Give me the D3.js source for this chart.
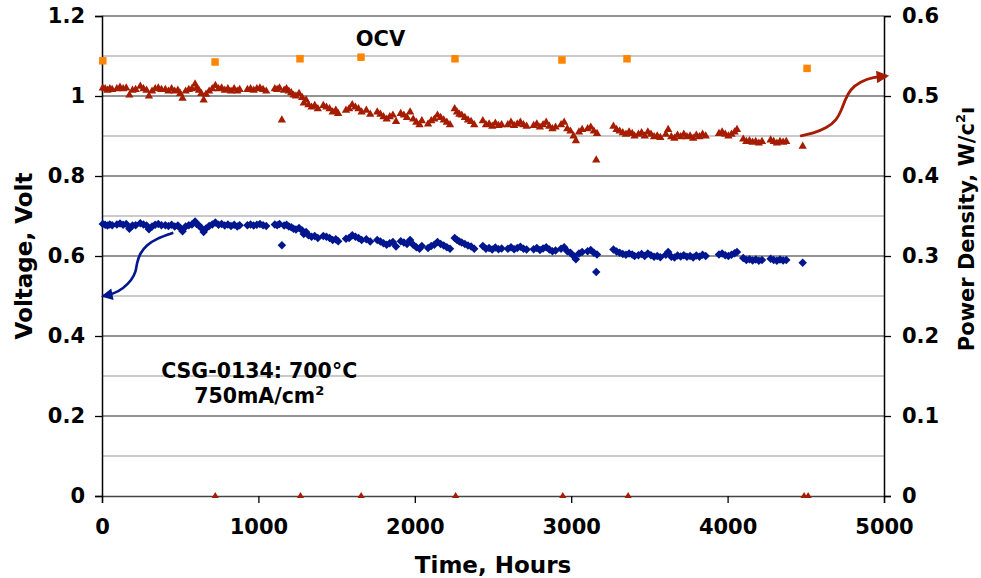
<!DOCTYPE html>
<html>
<head>
<meta charset="utf-8">
<script src="https://cdn.jsdelivr.net/npm/d3@7"></script>
<style>
  body { margin: 0; background: #fff; }
  text { font-family: "DejaVu Sans", Verdana, sans-serif; font-weight: bold; fill: #000; }
</style>
</head>
<body>
<div id="chart"></div>
<script>
// time (hours) of each logged point
const hours = [
  5, 20, 35, 50, 65,
  95, 115, 135, 155, 175, 195, 215,
  245, 265, 285, 300, 320, 340, 360, 380,
  405, 425, 445, 465, 485, 500, 515, 535, 555, 575, 595, 605,
  620, 635, 650, 665, 685, 705, 725, 745, 765, 785, 805, 825, 845, 865, 880,
  930, 950, 970, 990, 1010, 1030, 1050,
  1105, 1120, 1135, 1150, 1165, 1180, 1195, 1210, 1225, 1240, 1260, 1280,
  1290, 1305, 1320, 1340, 1360, 1380,
  1415, 1435, 1455, 1475, 1495, 1510,
  1560, 1580, 1600, 1620, 1640, 1660, 1690, 1715,
  1760, 1780, 1800, 1820, 1840, 1860, 1880,
  1910, 1930, 1950, 1970, 1990, 2010, 2030, 2045,
  2085, 2105, 2125, 2145, 2165, 2185, 2205, 2225,
  2255, 2270, 2285, 2300, 2320, 2340, 2360, 2380,
  2435, 2455, 2475, 2495, 2515, 2535, 2555,
  2595, 2615, 2635, 2655, 2675, 2695, 2715,
  2760, 2780, 2800, 2820, 2840, 2860, 2880, 2900,
  2935, 2955, 2975, 2995, 3015, 3030, 3050, 3070,
  3105, 3125, 3145, 3160, 3165,
  3270, 3290, 3310, 3330, 3350, 3370, 3390, 3405,
  3430, 3450, 3470, 3490, 3510, 3530, 3550, 3570,
  3605, 3620, 3640, 3660, 3680, 3700, 3720, 3740, 3760, 3780, 3800, 3820, 3840, 3860,
  3945, 3965, 3985, 4005, 4025, 4045, 4060,
  4100, 4120, 4140, 4160, 4180, 4200, 4220,
  4275, 4295, 4315, 4335, 4355, 4375,
  4480
];

// cell voltage (V)
const voltage = [
  .680, .678, .676, .679, .677,
  .679, .681, .678, .680, .668, .676, .677,
  .682, .679, .676, .667, .674, .678, .680, .677,
  .677, .675, .678, .674, .676, .670, .662, .674, .677, .679, .686, .680,
  .676, .670, .660, .669, .675, .679, .684, .678, .680, .676, .679, .675, .678, .674, .677,
  .677, .679, .676, .678, .680, .677, .675,
  .679, .677, .680, .627, .676, .678, .674, .672, .668, .666, .670, .664,
  .655, .660, .652, .648, .650, .645,
  .650, .648, .645, .640, .642, .637,
  .643, .645, .652, .648, .645, .640, .642, .636,
  .640, .636, .632, .628, .632, .635, .624,
  .637, .634, .630, .640, .628, .622, .618, .625,
  .620, .625, .628, .635, .630, .626, .622, .618,
  .645, .640, .636, .634, .630, .626, .624, .618,
  .625, .618, .620, .616, .621, .617, .619,
  .618, .622, .617, .620, .623, .618, .616,
  .617, .620, .615, .619, .622, .616, .612, .614,
  .618, .622, .612, .608, .600, .592, .606, .610,
  .612, .615, .608, .560, .604,
  .616, .611, .608, .605, .603, .606, .604, .600,
  .602, .605, .600, .606, .602, .598, .600, .597,
  .603, .610, .598, .596, .601, .599, .602, .598, .600, .596, .601, .598, .603, .600,
  .604, .606, .602, .600, .603, .607, .610,
  .595, .590, .592, .589, .591, .588, .590,
  .593, .590, .588, .591, .589, .590,
  .583
];

// power density (W/cm2), right axis
const power = [
  .510, .509, .507, .509, .508,
  .509, .511, .509, .510, .501, .507, .508,
  .512, .509, .507, .500, .506, .509, .510, .508,
  .508, .506, .509, .506, .507, .503, .497, .506, .508, .509, .515, .510,
  .507, .503, .495, .502, .506, .509, .513, .509, .510, .507, .509, .506, .509, .506, .508,
  .508, .509, .507, .509, .510, .508, .506,
  .509, .508, .510, .470, .507, .509, .506, .504, .501, .500, .503, .498,
  .491, .495, .489, .486, .488, .484,
  .488, .486, .484, .480, .482, .478,
  .482, .484, .489, .486, .484, .480, .482, .477,
  .480, .477, .474, .471, .474, .476, .468,
  .478, .476, .473, .480, .471, .467, .464, .469,
  .465, .469, .471, .476, .473, .470, .467, .464,
  .484, .480, .477, .476, .473, .470, .468, .464,
  .469, .464, .465, .462, .466, .463, .464,
  .464, .467, .463, .465, .467, .464, .462,
  .463, .465, .461, .464, .467, .462, .459, .461,
  .464, .467, .459, .456, .450, .444, .455, .458,
  .459, .461, .456, .420, .453,
  .462, .458, .456, .454, .452, .455, .453, .450,
  .452, .454, .450, .455, .452, .449, .450, .448,
  .452, .458, .449, .447, .451, .449, .452, .449, .450, .447, .451, .449, .452, .450,
  .453, .455, .452, .450, .452, .455, .458,
  .446, .443, .444, .442, .443, .441, .443,
  .445, .443, .441, .443, .442, .443,
  .437
];

// open circuit checks: OCV and zero power at the same moments
const ocvHours = [5, 723, 1266, 1656, 2257, 2941, 3357, 4508];
const ocvVolt = [1.088, 1.085, 1.093, 1.097, 1.093, 1.090, 1.093, 1.069];
const zeroHours = [724, 1269, 1657, 2261, 2946, 3364, 4489, 4515];
const zeroPower = [0, 0, 0, 0, 0, 0, 0, 0];

// annotation arrows (data space)
const blueArrow = [[456, .658], [350, .644], [286, .6275], [243, .607], [222, .582], [217, .561], [190, .54], [136, .519], [72, .505], [8, .50]];
const redArrow = [[4463, .45], [4548, .4535], [4634, .46], [4698, .47], [4729, .483], [4751, .495], [4783, .508], [4847, .518], [4932, .5235], [5017, .525]];

const xTicks = [0, 1000, 2000, 3000, 4000, 5000];
const yTicks = [0, 0.2, 0.4, 0.6, 0.8, 1, 1.2];
const y2Ticks = [0, 0.1, 0.2, 0.3, 0.4, 0.5, 0.6];
const minorY = [0.1, 0.3, 0.5, 0.7, 0.9, 1.1];

const W = 981, H = 578;
const margin = { top: 16, right: 97, bottom: 82, left: 102 };
const width = W - margin.left - margin.right;
const height = H - margin.top - margin.bottom;

const blue = "#00168f", red = "#a51c00", orange = "#ff8400";

const svg = d3.select("#chart").append("svg")
  .attr("width", W).attr("height", H);
const g = svg.append("g").attr("transform", `translate(${margin.left},${margin.top})`);

const x = d3.scaleLinear().domain([0, 5000]).range([0, width]);
const y = d3.scaleLinear().domain([0, 1.2]).range([height, 0]);
const y2 = d3.scaleLinear().domain([0, 0.6]).range([height, 0]);

// gridlines
g.selectAll(".minor").data(minorY).enter().append("line")
  .attr("x1", 0).attr("x2", width)
  .attr("y1", d => y(d)).attr("y2", d => y(d))
  .attr("stroke", "#b8b8b8").attr("stroke-width", 1.3);
g.selectAll(".major").data(yTicks.slice(1)).enter().append("line")
  .attr("x1", 0).attr("x2", width)
  .attr("y1", d => y(d)).attr("y2", d => y(d))
  .attr("stroke", "#707070").attr("stroke-width", 1.3);

// axes
const xAxis = g.append("g").attr("transform", `translate(0,${height})`)
  .call(d3.axisBottom(x).tickValues(xTicks).tickSize(7).tickPadding(10).tickFormat(d3.format("d")));
const yAxis = g.append("g")
  .call(d3.axisLeft(y).tickValues(yTicks).tickSize(7).tickPadding(10).tickFormat(d => d));
const y2Axis = g.append("g").attr("transform", `translate(${width},0)`)
  .call(d3.axisRight(y2).tickValues(y2Ticks).tickSize(7).tickPadding(11).tickFormat(d => d));

[xAxis, yAxis, y2Axis].forEach(a => {
  a.select(".domain").attr("stroke", "#000").attr("stroke-width", 1.5);
  a.selectAll(".tick line").attr("stroke", "#000").attr("stroke-width", 1.3);
  a.selectAll(".tick text").attr("font-size", 21).attr("font-family", null).attr("fill", "#000");
});
xAxis.select(".domain").attr("stroke", "#444");
xAxis.selectAll(".tick text").attr("dy", "1.0em");

// symbols
const diamond = d3.symbol().type(d3.symbolSquare).size(36);
const tri = d3.symbol().type(d3.symbolTriangle).size(30);
const square = d3.symbol().type(d3.symbolSquare).size(56);

g.selectAll(".pd").data(hours).enter().append("path")
  .attr("d", tri)
  .attr("transform", (d, i) => `translate(${x(d)},${y2(power[i])})`)
  .attr("fill", red);

g.selectAll(".pz").data(zeroHours).enter().append("path")
  .attr("d", d3.symbol().type(d3.symbolTriangle).size(22))
  .attr("transform", (d, i) => `translate(${x(d)},${y2(zeroPower[i])})`)
  .attr("fill", red);

g.selectAll(".v").data(hours).enter().append("path")
  .attr("d", diamond)
  .attr("transform", (d, i) => `translate(${x(d)},${y(voltage[i])}) rotate(45)`)
  .attr("fill", blue);

g.selectAll(".ocv").data(ocvHours).enter().append("path")
  .attr("d", square)
  .attr("transform", (d, i) => `translate(${x(d)},${y(ocvVolt[i])})`)
  .attr("fill", orange);

// arrows
const defs = svg.append("defs");
[["blueHead", blue], ["redHead", red]].forEach(([id, c]) => {
  defs.append("marker").attr("id", id)
    .attr("viewBox", "0 0 10 10").attr("refX", 8).attr("refY", 5)
    .attr("markerWidth", 5).attr("markerHeight", 4.5).attr("orient", "auto")
    .attr("markerUnits", "strokeWidth")
    .append("path").attr("d", "M0,0L10,5L0,10Z").attr("fill", c);
});

g.append("path")
  .attr("d", d3.line().x(d => x(d[0])).y(d => y(d[1])).curve(d3.curveBasis)(blueArrow))
  .attr("fill", "none").attr("stroke", blue).attr("stroke-width", 2.6)
  .attr("marker-end", "url(#blueHead)");

g.append("path")
  .attr("d", d3.line().x(d => x(d[0])).y(d => y2(d[1])).curve(d3.curveBasis)(redArrow))
  .attr("fill", "none").attr("stroke", red).attr("stroke-width", 2.8)
  .attr("marker-end", "url(#redHead)");

// labels
g.append("text").attr("x", x(1780)).attr("y", y(1.125))
  .attr("text-anchor", "middle").attr("font-size", 21).text("OCV");

const note = g.append("text").attr("text-anchor", "middle").attr("font-size", 20.5);
note.append("tspan").attr("x", x(1005)).attr("y", y(0.295)).text("CSG-0134: 700°C");
const l2 = note.append("tspan").attr("x", x(1005)).attr("y", y(0.233)).text("750mA/cm");
l2.append("tspan").attr("font-size", 13).attr("dy", -8).text("2");

svg.append("text")
  .attr("transform", `translate(493,573)`)
  .attr("text-anchor", "middle").attr("font-size", 23).text("Time, Hours");

svg.append("text")
  .attr("transform", `translate(32,${margin.top + height / 2}) rotate(-90)`)
  .attr("text-anchor", "middle").attr("font-size", 23).text("Voltage, Volt");

const t2 = svg.append("text")
  .attr("transform", `translate(974,229) rotate(-90)`)
  .attr("text-anchor", "middle").attr("font-size", 21);
t2.append("tspan").text("Power Density, W/c");
t2.append("tspan").attr("font-size", 13).attr("dy", -9).text("2");
t2.append("tspan").attr("dy", 9).text("ı");
</script>
</body>
</html>
